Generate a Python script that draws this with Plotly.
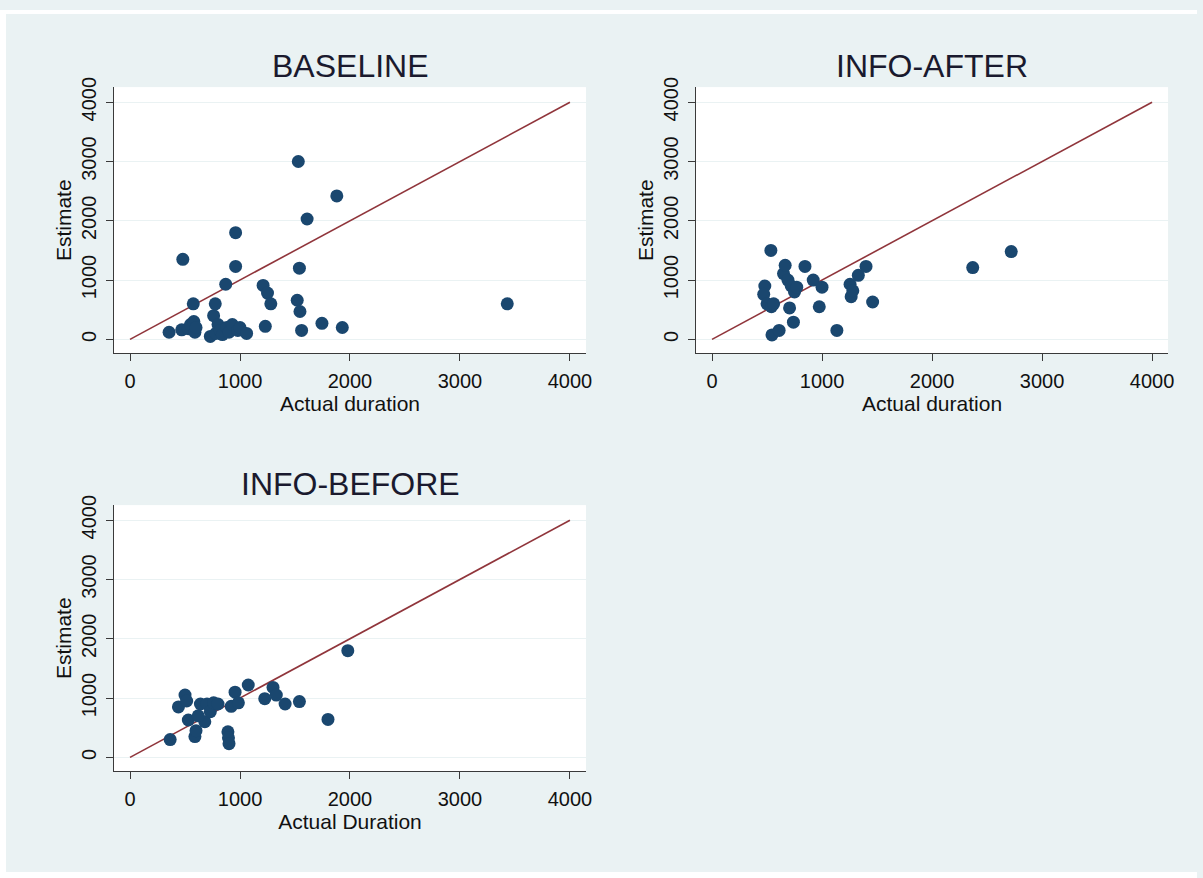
import plotly.graph_objects as go

# ---- data ----
baseline_actual = [355, 470, 480, 530, 550, 575, 580, 590, 600, 730, 760, 775, 780, 800,
                   820, 840, 870, 880, 900, 930, 960, 960, 980, 1000, 1060, 1210, 1230,
                   1250, 1280, 1520, 1530, 1540, 1545, 1560, 1610, 1745, 1880, 1930, 3430]
baseline_est = [120, 160, 1350, 180, 250, 600, 300, 120, 200, 50, 400, 600, 100, 250,
                150, 80, 930, 200, 120, 250, 1800, 1230, 150, 200, 100, 910, 220,
                780, 600, 660, 3000, 1200, 470, 150, 2030, 270, 2420, 200, 600]

after_actual = [480, 470, 500, 540, 535, 545, 610, 650, 665, 690, 705, 720, 750, 770,
                740, 845, 920, 975, 1000, 1135, 1255, 1265, 1280, 1330, 1400, 1460,
                2370, 2720, 560]
after_est = [900, 760, 600, 550, 1500, 75, 150, 1110, 1250, 1000, 530, 900, 800, 880,
             290, 1230, 1000, 550, 880, 150, 930, 720, 820, 1080, 1230, 630,
             1210, 1480, 600]

before_actual = [365, 440, 500, 515, 530, 590, 600, 640, 680, 700, 730, 760, 800, 890,
                 895, 900, 920, 955, 985, 1075, 1225, 1300, 1330, 1410, 1540, 1800,
                 1980, 620]
before_est = [300, 850, 1050, 950, 630, 350, 450, 900, 600, 900, 770, 920, 900, 430,
              330, 230, 860, 1100, 920, 1220, 990, 1180, 1050, 900, 940, 640,
              1800, 700]

line_x = [0, 4000]
line_y = [0, 4000]

tick_vals = [0, 1000, 2000, 3000, 4000]
tick_text = ["0", "1000", "2000", "3000", "4000"]

titles = ["BASELINE", "INFO-AFTER", "INFO-BEFORE"]
xtitles = ["Actual duration", "Actual duration", "Actual Duration"]
ytitle = "Estimate"

# ---- styling ----
W, H = 1203, 878
BG = "#EAF2F3"
NAVY = "#1a476f"
MAROON = "#90353b"
AXIS = "#3a3a3a"
FONT = "Liberation Sans, Arial, sans-serif"

# plot-region pixel boxes (left, right, top, bottom)
boxes = [(114.6, 588.9, 78.0, 347.3), (699.5, 1173.9, 78.0, 347.3), (114.6, 588.9, 500.8, 770.1)]
title_pos = [(352, 57), (937, 57), (352, 479.5)]

fig = go.Figure()
series = [(baseline_actual, baseline_est), (after_actual, after_est), (before_actual, before_est)]

for i, (xs, ys) in enumerate(series):
    suffix = "" if i == 0 else str(i + 1)
    fig.add_trace(go.Scatter(x=line_x, y=line_y, mode="lines",
                             line=dict(color=MAROON, width=1.6),
                             xaxis="x" + suffix, yaxis="y" + suffix, showlegend=False,
                             hoverinfo="skip"))
    fig.add_trace(go.Scatter(x=xs, y=ys, mode="markers",
                             marker=dict(color=NAVY, size=13, line=dict(width=0)),
                             xaxis="x" + suffix, yaxis="y" + suffix, showlegend=False))

# thin white frame strips at the edges
shapes = [
    dict(type="rect", xref="paper", yref="paper", layer="above",
         x0=0, x1=6 / W, y0=0, y1=1, line=dict(width=0), fillcolor="white"),
    dict(type="rect", xref="paper", yref="paper", layer="above",
         x0=0, x1=1, y0=0, y1=6 / H, line=dict(width=0), fillcolor="white"),
    dict(type="rect", xref="paper", yref="paper", layer="above",
         x0=0, x1=1, y0=1 - 4 / H, y1=1, line=dict(width=0), fillcolor="white"),
]

layout = dict(
    width=W, height=H,
    margin=dict(l=0, r=0, t=0, b=0),
    paper_bgcolor=BG,
    plot_bgcolor="white",
    font=dict(family=FONT, color="#111111"),
    shapes=shapes,
    annotations=[],
)

for i, (l, r, t, b) in enumerate(boxes):
    suffix = "" if i == 0 else str(i + 1)
    xa = dict(domain=[l / W, r / W], range=[-145.5, 4145.5],
              anchor="y" + suffix,
              tickvals=tick_vals, ticktext=tick_text,
              ticks="outside", ticklen=7, tickcolor=AXIS, tickwidth=1,
              ticklabelstandoff=3,
              showline=True, linecolor=AXIS, linewidth=1.2,
              showgrid=False, zeroline=False,
              tickfont=dict(size=20, family=FONT, color="#111111"),
              title=dict(text=xtitles[i], font=dict(size=21, family=FONT, color="#111111"),
                         standoff=3))
    ya = dict(domain=[1 - b / H, 1 - t / H], range=[-236, 4255],
              anchor="x" + suffix,
              tickvals=tick_vals, ticktext=tick_text, tickangle=-90,
              ticks="outside", ticklen=7, tickcolor=AXIS, tickwidth=1,
              ticklabelstandoff=2,
              showline=True, linecolor=AXIS, linewidth=1.2,
              showgrid=True, gridcolor=BG, gridwidth=1.2, zeroline=False,
              tickfont=dict(size=20, family=FONT, color="#111111"),
              title=dict(text=ytitle, font=dict(size=21, family=FONT, color="#111111"),
                         standoff=0))
    layout["xaxis" + suffix] = xa
    layout["yaxis" + suffix] = ya
    tx, ty = title_pos[i]
    layout["annotations"].append(dict(text=titles[i], xref="paper", yref="paper",
                                      x=tx / W, y=1 - ty / H, showarrow=False,
                                      xanchor="center", yanchor="middle",
                                      font=dict(size=32, family=FONT, color="#1a1a2e")))

fig.update_layout(**layout)
fig.write_html("out.html")
